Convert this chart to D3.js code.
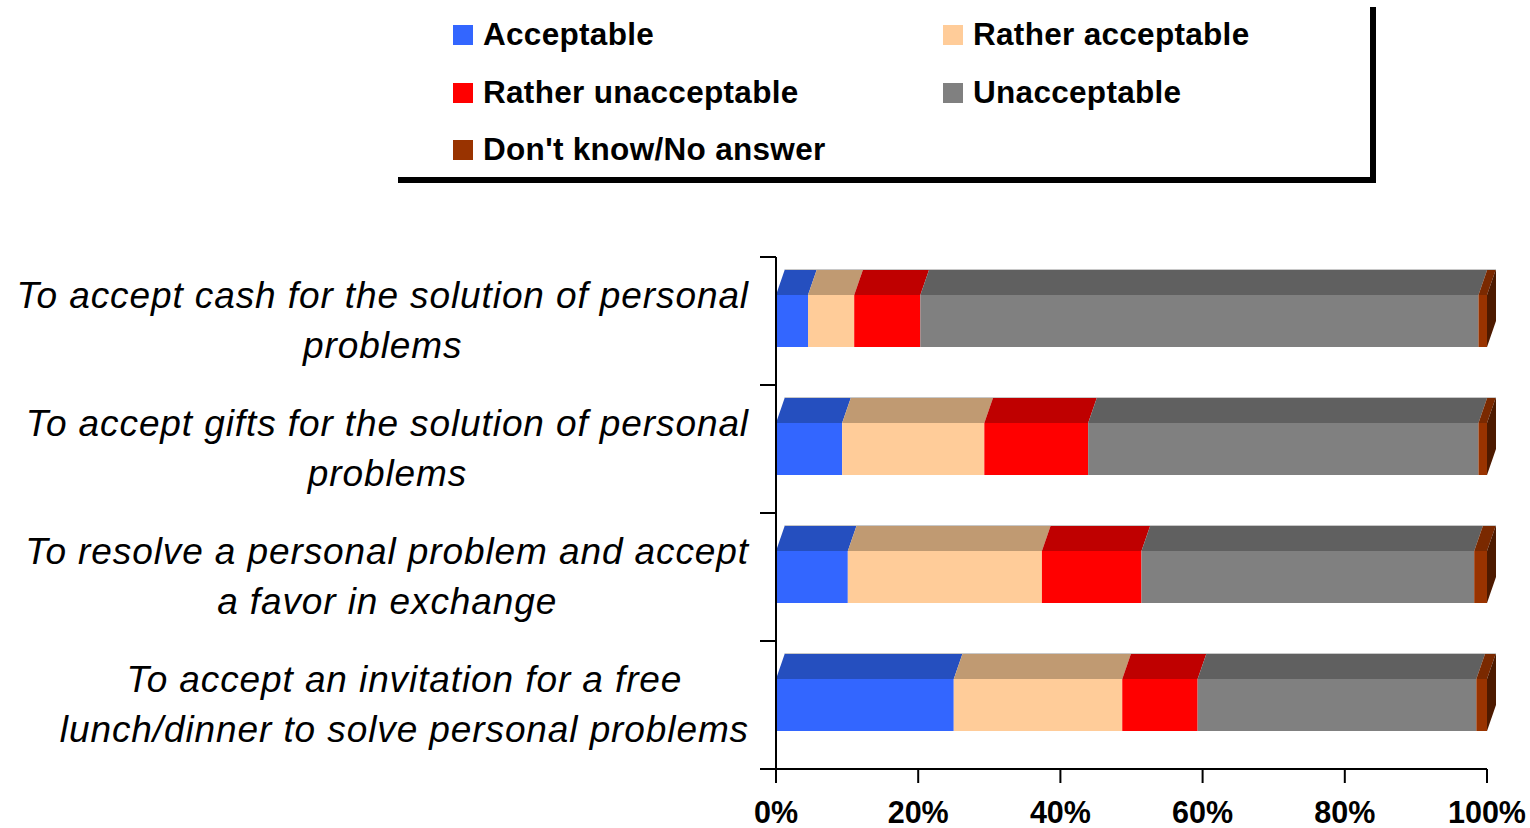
<!DOCTYPE html>
<html>
<head>
<meta charset="utf-8">
<script src="https://cdn.jsdelivr.net/npm/d3@7"></script>
<style>
html,body{margin:0;padding:0;background:#fff;}
svg{display:block;font-family:"Liberation Sans",Arial,sans-serif;}
</style>
</head>
<body>
<svg id="chart" width="1530" height="828"></svg>
<script>
// ---- data ----
const categories = [
  "To accept cash for the solution of personal|problems",
  "To accept gifts for the solution of personal|problems",
  "To resolve a personal problem and accept|a favor in exchange",
  "To accept an invitation for a free|lunch/dinner to solve personal problems"
];
const seriesNames = ["Acceptable","Rather acceptable","Rather unacceptable","Unacceptable","Don't know/No answer"];
const acceptable          = [4.5, 9.3, 10.1, 25.0];
const ratherAcceptable    = [6.5, 20.0, 27.3, 23.7];
const ratherUnacceptable  = [9.3, 14.6, 14.0, 10.6];
const unacceptable        = [78.5, 54.9, 46.8, 39.2];
const dontKnow            = [1.2, 1.2, 1.8, 1.5];
const xTicks = [0, 20, 40, 60, 80, 100];

const frontColors = ["#3366FF","#FFCC99","#FF0000","#808080","#993300"];
const topColors   = ["#254FBF","#C09A72","#BF0000","#606060","#7A2900"];
const sideColor   = "#4D1A00";

const rows = categories.map((c,i)=>({
  cat:c,
  "Acceptable":acceptable[i],
  "Rather acceptable":ratherAcceptable[i],
  "Rather unacceptable":ratherUnacceptable[i],
  "Unacceptable":unacceptable[i],
  "Don't know/No answer":dontKnow[i]
}));

const svg = d3.select("#chart");
const x = d3.scaleLinear().domain([0,100]).range([776,1487]);
const y = d3.scaleBand().domain(categories).range([257,769]).paddingInner(0).paddingOuter(0);
const barH = 52, dx = 9, dy = 26;

const stack = d3.stack().keys(seriesNames)(rows);

const g = svg.append("g");
stack.forEach((s,si)=>{
  s.forEach((d,ri)=>{
    const cy = y(rows[ri].cat) + y.bandwidth()/2;
    const y0 = cy - barH/2, y1 = cy + barH/2;
    const xa = x(d[0]), xb = x(d[1]);
    g.append("rect").attr("x",xa).attr("y",y0).attr("width",Math.max(0,xb-xa)).attr("height",barH)
      .attr("fill",frontColors[si]);
    g.append("path").attr("d",`M${xa},${y0}L${xb},${y0}L${xb+dx},${y0-dy}L${xa+dx},${y0-dy}Z`)
      .attr("fill",topColors[si]);
    if (si === stack.length-1) {
      g.append("path").attr("d",`M${xb},${y0}L${xb+dx},${y0-dy}L${xb+dx},${y1-dy}L${xb},${y1}Z`)
        .attr("fill",sideColor);
    }
  });
});
// light top edge of bars
rows.forEach(r=>{
  const cy = y(r.cat) + y.bandwidth()/2;
  g.append("line").attr("x1",x(0)+dx).attr("x2",x(100)+dx)
    .attr("y1",cy-barH/2-dy+0.5).attr("y2",cy-barH/2-dy+0.5)
    .attr("stroke","#c8c8c8").attr("stroke-width",1);
});

// y axis
const ya = svg.append("g").attr("stroke","#000").attr("stroke-width",2);
ya.append("line").attr("x1",776).attr("x2",776).attr("y1",257).attr("y2",769);
const bounds = categories.map(c=>y(c)).concat([y.range()[1]]);
bounds.forEach(b=>{
  ya.append("line").attr("x1",760).attr("x2",776).attr("y1",b).attr("y2",b);
});

// x axis
const xa = svg.append("g").attr("stroke","#000").attr("stroke-width",2);
xa.append("line").attr("x1",x(0)).attr("x2",x(100)).attr("y1",769).attr("y2",769);
xTicks.forEach(t=>{
  xa.append("line").attr("x1",x(t)).attr("x2",x(t)).attr("y1",769).attr("y2",783);
});
svg.append("g").selectAll("text").data(xTicks).join("text")
  .attr("x",d=>x(d)).attr("y",823).attr("text-anchor","middle")
  .attr("font-weight","bold").attr("font-size",30.5).text(d=>d+"%");

// category labels
const labG = svg.append("g");
categories.forEach(c=>{
  const lines = c.split("|");
  const cy = y(c) + y.bandwidth()/2;
  const tmp = lines.map((l,li)=>labG.append("text").attr("font-style","italic").attr("font-size",37)
      .attr("letter-spacing",0.9)
      .attr("y", cy - 13 + li*50).text(l));
  const maxW = d3.max(tmp, t=>t.node().getComputedTextLength());
  const center = 749 - maxW/2;
  tmp.forEach(t=>t.attr("x",center).attr("text-anchor","middle"));
});

// legend
const legendPos = [[453,35],[943,35],[453,93],[943,93],[453,150]];
const lg = svg.append("g");
seriesNames.forEach((n,i)=>{
  const [lx,ly] = legendPos[i];
  lg.append("rect").attr("x",lx).attr("y",ly-10).attr("width",20).attr("height",20).attr("fill",frontColors[i]);
  lg.append("text").attr("x",lx+30).attr("y",ly+10).attr("font-weight","bold").attr("font-size",31.5)
    .attr("letter-spacing",0.3).text(n);
});
lg.append("line").attr("x1",1373).attr("x2",1373).attr("y1",7).attr("y2",183).attr("stroke","#000").attr("stroke-width",6);
lg.append("line").attr("x1",398).attr("x2",1376).attr("y1",180).attr("y2",180).attr("stroke","#000").attr("stroke-width",6);
</script>
</body>
</html>
